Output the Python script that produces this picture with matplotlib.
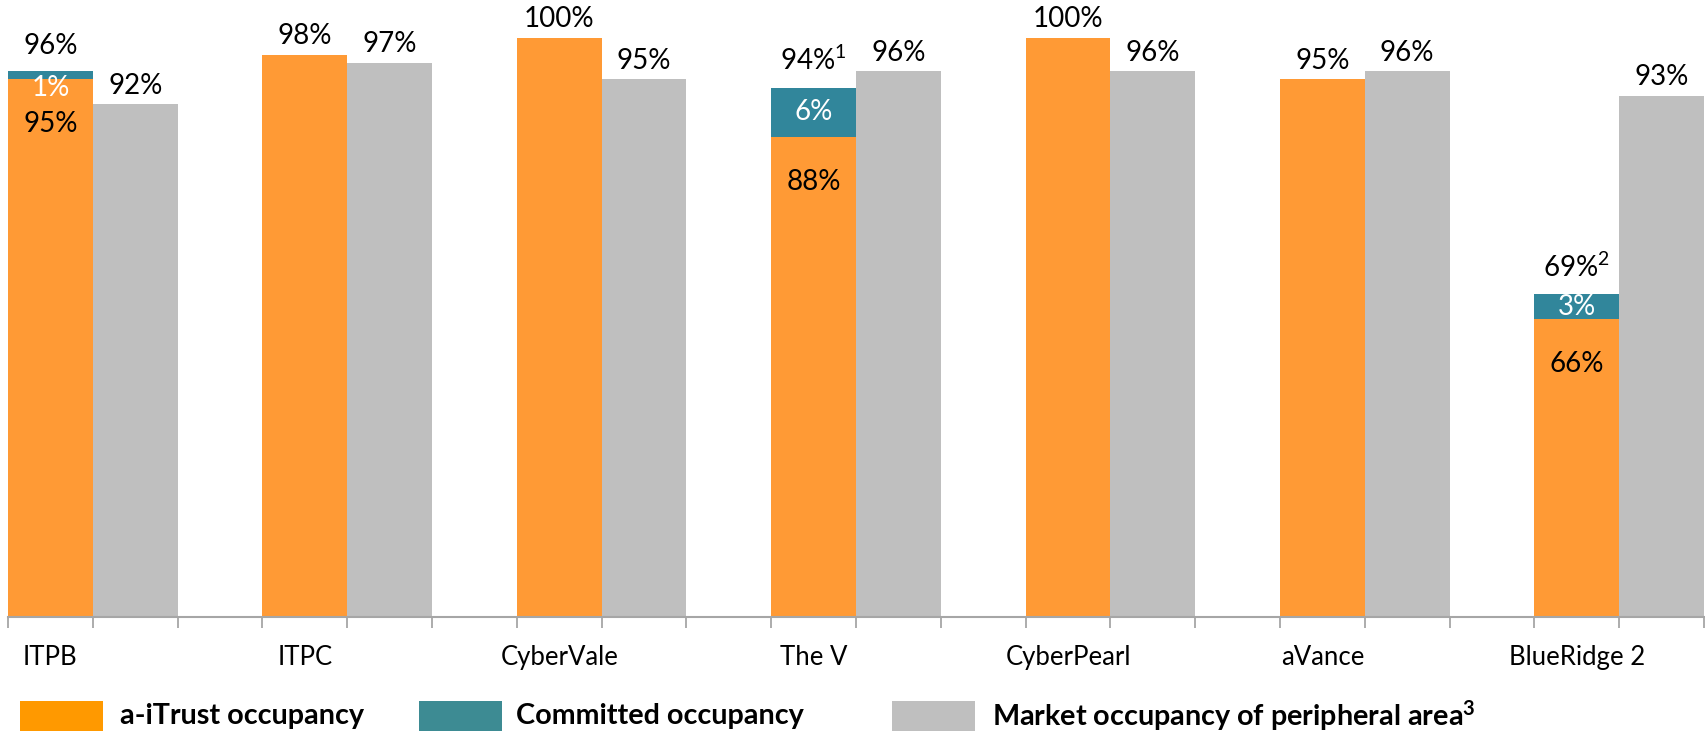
import matplotlib
matplotlib.use("Agg")
import matplotlib.pyplot as plt
from matplotlib.patches import Rectangle

plt.rcParams['font.family'] = ['Lato', 'DejaVu Sans']
plt.rcParams['mathtext.fontset'] = 'custom'
plt.rcParams['mathtext.rm'] = 'Lato'
plt.rcParams['mathtext.it'] = 'Lato'
plt.rcParams['mathtext.bf'] = 'Lato:bold'

# data
categories = ['ITPB', 'ITPC', 'CyberVale', 'The V', 'CyberPearl', 'aVance', 'BlueRidge 2']
itrust = [95, 98, 100, 88, 100, 95, 66]
committed = [1, 0, 0, 6, 0, 0, 3]
market = [92, 97, 95, 96, 96, 96, 93]
total_labels = ['96%', '', '', r'94%$^\mathrm{1}$', '', '', r'69%$^\mathrm{2}$']
legend_labels = ['a-iTrust occupancy', 'Committed occupancy',
                 r'Market occupancy of peripheral area$^\mathbf{3}$']

c_orange = '#FF9A35'
c_teal = '#31869B'
c_grey = '#BFBFBF'

fig = plt.figure(figsize=(17.05, 7.33), dpi=100)
ax = fig.add_axes([8 / 1705, 116 / 733, 1696 / 1705, 617 / 733])

xo = [3 * i + 0.5 for i in range(len(categories))]
xg = [3 * i + 1.5 for i in range(len(categories))]

ax.bar(xo, itrust, width=1.0, color=c_orange)
ax.bar(xo, committed, width=1.0, bottom=itrust, color=c_teal)
ax.bar(xg, market, width=1.0, color=c_grey)

ax.set_xlim(0, 20)
ax.set_ylim(30, 104.6)

# labels
fs = 20
for i in range(len(categories)):
    if committed[i] > 0:
        top = itrust[i] + committed[i]
        ax.annotate(total_labels[i], (xo[i], top), xytext=(0, 9), textcoords='offset points',
                    ha='center', va='bottom', fontsize=fs)
        ax.annotate('%d%%' % itrust[i], (xo[i], itrust[i]), xytext=(0, -23),
                    textcoords='offset points', ha='center', va='top', fontsize=fs)
        yc = itrust[i] + committed[i] / 2
        if committed[i] < 2:
            yc = itrust[i] - 1.1
        ax.text(xo[i], yc, '%d%%' % committed[i], ha='center', va='center',
                fontsize=fs, color='white')
    else:
        ax.annotate('%d%%' % itrust[i], (xo[i], itrust[i]), xytext=(0, 4),
                    textcoords='offset points', ha='center', va='bottom', fontsize=fs)
    ax.annotate('%d%%' % market[i], (xg[i], market[i]), xytext=(0, 4),
                textcoords='offset points', ha='center', va='bottom', fontsize=fs)

# axes styling
for s in ['top', 'right', 'left']:
    ax.spines[s].set_visible(False)
ax.spines['bottom'].set_color('#A6A6A6')
ax.spines['bottom'].set_linewidth(1.5)
ax.set_yticks([])
ax.set_xticks(range(0, 21))
ax.set_xticklabels([])
ax.tick_params(axis='x', which='major', length=8, width=1.3, color='#A6A6A6')
ax.set_xticks(xo, minor=True)
ax.set_xticklabels(categories, minor=True, fontsize=18.5)
ax.tick_params(axis='x', which='minor', length=0, pad=20)

# legend drawn by hand
patch_x = [20, 419, 892]
text_x = [120, 516, 992]
leg_colors = ['#FF9900', '#3D8B93', c_grey]
for px, tx, col, lab in zip(patch_x, text_x, leg_colors, legend_labels):
    fig.add_artist(Rectangle((px / 1705, 2 / 733), 83 / 1705, 30 / 733,
                             transform=fig.transFigure, color=col, lw=0))
    fig.text(tx / 1705, 17 / 733, lab, fontsize=20.7, fontweight='bold', va='center', ha='left')

fig.savefig('out.png', dpi=100)
